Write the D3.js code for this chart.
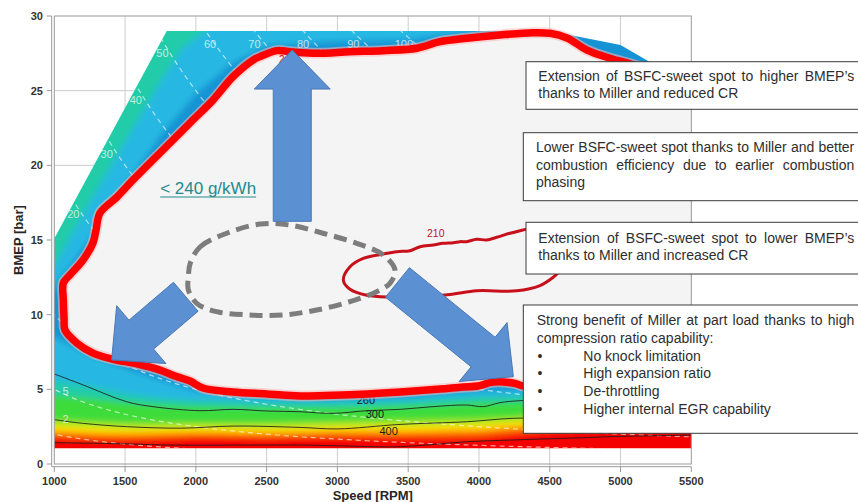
<!DOCTYPE html>
<html>
<head>
<meta charset="utf-8">
<script src="https://cdn.jsdelivr.net/npm/d3@7"></script>
<style>
  html, body { margin: 0; padding: 0; background: #ffffff; }
  svg { display: block; font-family: "Liberation Sans", Arial, sans-serif; }
</style>
</head>
<body>
<svg id="chart" width="858" height="502"></svg>
<script>
// ---------- axes ----------
const speedTicks = [1000, 1500, 2000, 2500, 3000, 3500, 4000, 4500, 5000, 5500];
const bmepTicks = [0, 5, 10, 15, 20, 25, 30];
const speedTitle = "Speed [RPM]";
const bmepTitle = "BMEP [bar]";

// ---------- measured map outline [rpm, bar] ----------
const fullLoad = [[1000, 15.1], [1794, 29.0], [4500, 29.0], [5000, 28.06], [5210, 26.9], [5500, 25.2]];
const minLoad = 1.05;

// ---------- BSFC colour bands: lower edge (bar) of each band at bandRpm ----------
const bandRpm    = [900, 1000, 1250, 1500, 1750, 2000, 2500, 3000, 3500, 4000, 4500, 5000, 5500, 5700];
const edgeOrange = [1.85, 1.85, 1.75, 1.7, 1.75, 1.85, 1.8, 1.85, 1.85, 1.9, 2.3, 2.5, 2.6, 2.6];
const edgeYellow = [2.2, 2.2, 2.1, 2.05, 2.1, 2.15, 2.1, 2.2, 2.2, 2.3, 2.65, 2.85, 2.95, 2.95];
const edgeLime   = [2.55, 2.55, 2.45, 2.35, 2.4, 2.45, 2.4, 2.5, 2.55, 2.65, 2.95, 3.15, 3.25, 3.25];
const edgeGreen  = [2.9, 2.9, 2.8, 2.7, 2.7, 2.7, 2.7, 2.8, 2.9, 3.0, 3.25, 3.4, 3.5, 3.5];
const edgeTeal   = [4.6, 4.6, 4.4, 4.1, 3.95, 3.85, 3.8, 3.8, 3.9, 4.1, 4.2, 4.2, 4.2, 4.2];
const edgeCyan   = [5.6, 5.6, 5.2, 4.7, 4.4, 4.25, 4.1, 4.1, 4.2, 4.5, 4.6, 4.6, 4.6, 4.6];
const edgeBlue   = [8.5, 8.5, 7.3, 6.4, 5.6, 4.9, 4.45, 4.35, 4.5, 4.9, 5.0, 5.0, 5.0, 5.0];
// upper limits of the cyan and blue bands towards the full-load line
const ceilCyan = [[900, 12.0], [1000, 13.3], [1250, 17.5], [1500, 21.6], [1750, 25.6], [1900, 27.8], [2100, 29.3], [2350, 30.5], [5700, 31]];
const ceilBlue = [[900, 10.5], [1000, 11.8], [1250, 15.0], [1500, 18.6], [1750, 22.0], [2000, 24.8], [2250, 26.8], [2500, 28.0],
                  [3000, 28.3], [3500, 28.4], [4000, 29.1], [4500, 29.6], [5700, 30]];

// ---------- BSFC iso-lines [rpm, bar] ----------
const bsfc300 = [[1000, 6.03], [1205, 5.29], [1511, 4.17], [1697, 3.84], [2029, 3.57], [2262, 3.66], [2500, 3.55], [2736, 3.5],
                 [2969, 3.39], [3207, 3.57], [3443, 3.66], [3675, 3.84], [3913, 3.95], [4031, 3.84], [4149, 4.11], [4290, 4.24],
                 [4700, 4.3], [5200, 4.2], [5600, 4.1]];
const bsfc400 = [[1000, 2.97], [1205, 2.72], [1511, 2.5], [1900, 2.4], [2262, 2.54], [2736, 2.45], [3000, 2.35], [3443, 2.65],
                 [3913, 2.83], [4240, 3.06], [4700, 3.1], [5200, 3.1], [5600, 3.1]];
const bsfcLow = [[1000, 1.43], [1500, 1.35], [1800, 1.27], [2736, 1.27], [3000, 1.22], [3443, 1.16], [3913, 1.49], [4240, 1.61],
                 [4700, 1.75], [5000, 1.85], [5600, 1.95]];
const contourLabelText = ["260", "300", "400"];
const contourLabelPos = [[3201, 4.0], [3265, 3.06], [3362, 1.94]];

// 240 g/kWh boundary (sweet spot)
const bsfc240 = [[1064, 12.12], [1064, 10.98], [1069, 9.78], [1076, 8.97], [1160, 8.10], [1273, 7.43], [1408, 7.03], [1584, 6.70],
                 [1747, 6.29], [1853, 5.89], [1959, 5.56], [2050, 5.09], [2262, 4.82], [2503, 4.69], [2736, 4.55], [2970, 4.6],
                 [3209, 4.69], [3442, 4.82], [3725, 5.02], [3887, 5.16], [3993, 5.22], [4099, 5.49], [4240, 5.42], [4339, 5.16],
                 [4572, 4.96], [4996, 4.82], [5597, 4.75], [5597, 25.7], [5280, 26.25], [5067, 26.8], [4926, 27.17], [4763, 27.72],
                 [4622, 28.53], [4502, 28.84], [4381, 28.88], [4149, 28.73], [3915, 28.51], [3725, 28.28], [3562, 27.84], [3322, 27.68],
                 [3089, 27.61], [2856, 27.50], [2665, 27.61], [2573, 27.68], [2453, 27.28], [2404, 27.05], [2262, 25.93], [2121, 24.37],
                 [1980, 23.04], [1839, 21.70], [1676, 20.16], [1556, 19.02], [1443, 17.88], [1323, 16.81], [1295, 15.67], [1273, 14.80],
                 [1203, 13.66], [1111, 12.66]];
// 210 g/kWh island
const bsfc210 = [[3042, 12.32], [3089, 13.21], [3183, 13.77], [3324, 14.06], [3419, 14.22], [3513, 14.28], [3584, 14.55], [3677, 14.67],
                 [3748, 14.78], [3819, 14.82], [3866, 14.89], [3913, 14.89], [3984, 15.05], [4054, 15.0], [4125, 15.18], [4219, 15.45],
                 [4290, 15.62], [4337, 15.72], [4560, 15.8], [4660, 14.3], [4600, 13.1], [4560, 12.8], [4510, 12.4], [4431, 11.95],
                 [4267, 11.6], [3984, 11.6], [3795, 11.35], [3560, 11.2], [3372, 11.18], [3207, 11.3], [3089, 11.7]];
const label210Pos = [3695, 15.22];
const label240Pos = [2587, 26.82];

// sweet spot of the base engine (dashed)
const baseSweetSpot = [[1960, 13.44], [2031, 14.55], [2218, 15.45], [2456, 16.07], [2665, 16.0], [2898, 15.45], [3136, 14.78],
                       [3324, 14.0], [3407, 12.99], [3371, 12.1], [3277, 11.54], [3089, 10.87], [2854, 10.31], [2618, 9.98],
                       [2382, 9.98], [2147, 10.2], [2006, 10.76], [1947, 11.65], [1947, 12.54]];

// ---------- iso-power lines (kW), 1.2 l four-stroke: P = BMEP * Vd * n / 1200 ----------
const displacement = 1.2;
const powerLevels = [2, 5, 10, 20, 30, 40, 50, 60, 70, 80, 90, 100];
const powerLabelText = ["2", "5", "20", "30", "40", "50", "60", "70", "80", "90", "100"];
const powerLabelPos = [[1079, 2.72], [1079, 4.62], [1134, 16.45], [1370, 20.47], [1576, 24.1], [1764, 27.23],
                       [2100, 27.84], [2414, 27.86], [2757, 27.86], [3112, 27.84], [3470, 27.84]];

// ---------- arrows [tail, tip] ----------
const arrowUp = [[2681, 16.25], [2681, 27.72]];
const arrowLeft = [[1929, 11.2], [1405, 6.97]];
const arrowRight = [[3424, 12.16], [4243, 5.85]];

// ---------- annotation texts ----------
const sweetSpotNote = "< 240 g/kWh";
const noteHigh = ["Extension of BSFC-sweet spot to higher BMEP\u2019s", "thanks to Miller and reduced CR"];
const noteLower = ["Lower BSFC-sweet spot thanks to Miller and better", "combustion efficiency due to earlier combustion", "phasing"];
const noteLow = ["Extension of BSFC-sweet spot to lower BMEP\u2019s", "thanks to Miller and increased CR"];
const notePart = ["Strong benefit of Miller at part load thanks to high", "compression ratio capability:"];
const notePartBullets = ["No knock limitation", "High expansion ratio", "De-throttling", "Higher internal EGR capability"];

// ================= drawing =================
const W = 858, H = 502;
const svg = d3.select("#chart");
svg.append("rect").attr("width", W).attr("height", H).attr("fill", "#ffffff");

const x = d3.scaleLinear().domain([1000, 5500]).range([54.3, 691.3]);
const y = d3.scaleLinear().domain([0, 30]).range([464, 16]);

const poly = pts => "M" + pts.map(p => x(p[0]).toFixed(2) + "," + y(p[1]).toFixed(2)).join("L") + "Z";
const smoothLine = d3.line().x(d => x(d[0])).y(d => y(d[1])).curve(d3.curveCatmullRom.alpha(0.5));
const smoothLoop = d3.line().x(d => x(d[0])).y(d => y(d[1])).curve(d3.curveCatmullRomClosed.alpha(0.5));

const defs = svg.append("defs");
defs.append("clipPath").attr("id", "plotClip").append("rect")
  .attr("x", x(1000)).attr("y", y(30)).attr("width", x(5500) - x(1000)).attr("height", y(0) - y(30));
const outline = fullLoad.concat([[5500, minLoad], [1000, minLoad]]);
defs.append("clipPath").attr("id", "mapClip").append("path").attr("d", poly(outline));
const soft = defs.append("filter").attr("id", "soft").attr("filterUnits", "userSpaceOnUse")
  .attr("x", -20).attr("y", -20).attr("width", W + 40).attr("height", H + 40);
soft.append("feGaussianBlur").attr("stdDeviation", 3.2);

// grid
const grid = svg.append("g").attr("stroke", "#cdcdcd").attr("stroke-width", 1);
speedTicks.slice(1, -1).forEach(v => grid.append("line")
  .attr("x1", x(v)).attr("x2", x(v)).attr("y1", y(30)).attr("y2", y(0) + 3));
bmepTicks.slice(1, -1).forEach(v => grid.append("line")
  .attr("x1", x(1000)).attr("x2", x(5500)).attr("y1", y(v)).attr("y2", y(v)));

// colour map
const mapG = svg.append("g").attr("clip-path", "url(#mapClip)");
const bandsG = mapG.append("g").attr("filter", "url(#soft)");
bandsG.append("path").attr("d", poly([[900, -3], [5700, -3], [5700, 40], [900, 40]])).attr("fill", "#f50000");
const layers = [
  [edgeOrange, null, "#ff7a00"],
  [edgeYellow, null, "#ffe400"],
  [edgeLime, null, "#b2e81c"],
  [edgeGreen, null, "#3edc3a"],
  [edgeTeal, null, "#22cca8"],
  [edgeCyan, ceilCyan, "#27b8e2"],
  [edgeBlue, ceilBlue, "#1493d4"]
];
layers.forEach(([edge, ceil, colour]) => {
  const lower = bandRpm.map((r, i) => [r, edge[i]]);
  const upper = ceil ? ceil.slice().reverse() : [[5700, 40], [900, 40]];
  bandsG.append("path").attr("d", poly(lower.concat(upper))).attr("fill", colour);
});

// iso-power lines
const isoG = mapG.append("g").attr("fill", "none").attr("stroke", "rgba(255,255,255,0.62)")
  .attr("stroke-width", 1.2).attr("stroke-dasharray", "5,4");
powerLevels.forEach(p => {
  const pts = d3.range(900, 5701, 25).map(n => [n, 1200 * p / (displacement * n)]);
  isoG.append("path").attr("d", smoothLine(pts));
});

// BSFC iso-lines
const isoBsfc = mapG.append("g").attr("fill", "none").attr("stroke", "#1c1c1c").attr("stroke-width", 1).attr("stroke-opacity", 0.85);
[bsfc300, bsfc400, bsfcLow].forEach(c => isoBsfc.append("path").attr("d", smoothLine(c)));

// iso-line labels
powerLabelText.forEach((t, i) => svg.append("text")
  .attr("x", x(powerLabelPos[i][0])).attr("y", y(powerLabelPos[i][1]))
  .attr("text-anchor", "middle").attr("font-size", 11).attr("fill", "rgba(235,245,245,0.8)").text(t));
contourLabelText.forEach((t, i) => svg.append("text")
  .attr("x", x(contourLabelPos[i][0])).attr("y", y(contourLabelPos[i][1]))
  .attr("text-anchor", "middle").attr("font-size", 11).attr("fill", "#1a1a1a").text(t));

// inside the 240 g/kWh boundary
const plotG = svg.append("g").attr("clip-path", "url(#plotClip)");
plotG.append("path").attr("d", smoothLoop(bsfc240)).attr("fill", "#f4f4f4");

// frame and axes
svg.append("rect").attr("x", x(1000)).attr("y", y(30)).attr("width", x(5500) - x(1000)).attr("height", y(0) - y(30))
  .attr("fill", "none").attr("stroke", "#9a9a9a").attr("stroke-width", 1);
const axG = svg.append("g").attr("stroke", "#9a9a9a").attr("stroke-width", 1);
axG.append("line").attr("x1", x(1000) - 2.6).attr("x2", x(1000) - 2.6).attr("y1", y(30)).attr("y2", y(0) + 2.7);
axG.append("line").attr("x1", x(1000) - 2.6).attr("x2", x(5500)).attr("y1", y(0) + 2.7).attr("y2", y(0) + 2.7);
bmepTicks.forEach(v => axG.append("line").attr("x1", x(1000) - 7.5).attr("x2", x(1000) - 2.6).attr("y1", y(v)).attr("y2", y(v)));
speedTicks.forEach(v => axG.append("line").attr("x1", x(v)).attr("x2", x(v)).attr("y1", y(0) + 2.7).attr("y2", y(0) + 8));

const tickFont = { "font-size": 11, "font-weight": "bold", "fill": "#333333" };
speedTicks.forEach(v => {
  const t = svg.append("text").attr("x", x(v)).attr("y", 485).attr("text-anchor", "middle").text(v);
  Object.entries(tickFont).forEach(([k, val]) => t.attr(k, val));
});
bmepTicks.forEach(v => {
  const t = svg.append("text").attr("x", 43).attr("y", y(v) + 4).attr("text-anchor", "end").text(v);
  Object.entries(tickFont).forEach(([k, val]) => t.attr(k, val));
});
svg.append("text").attr("x", (x(1000) + x(5500)) / 2).attr("y", 500).attr("text-anchor", "middle")
  .attr("font-size", 13).attr("font-weight", "bold").attr("fill", "#262626").text(speedTitle);
svg.append("text").attr("transform", `translate(22.5,${(y(0) + y(30)) / 2}) rotate(-90)`).attr("text-anchor", "middle")
  .attr("font-size", 13).attr("font-weight", "bold").attr("fill", "#262626").text(bmepTitle);

// 240 g/kWh boundary line
plotG.append("path").attr("d", smoothLoop(bsfc240)).attr("fill", "none")
  .attr("stroke", "#f7b9b9").attr("stroke-width", 11).attr("stroke-opacity", 0.55);
plotG.append("path").attr("d", smoothLoop(bsfc240)).attr("fill", "none")
  .attr("stroke", "#ff0000").attr("stroke-width", 7.5).attr("stroke-linejoin", "round");
svg.append("text").attr("x", x(label240Pos[0])).attr("y", y(label240Pos[1]))
  .attr("font-size", 10).attr("fill", "#e00000").text("240");

// 210 g/kWh island
svg.append("path").attr("d", smoothLoop(bsfc210)).attr("fill", "none")
  .attr("stroke", "#c8101a").attr("stroke-width", 3).attr("stroke-linejoin", "round");
svg.append("text").attr("x", x(label210Pos[0])).attr("y", y(label210Pos[1])).attr("text-anchor", "middle")
  .attr("font-size", 10.5).attr("fill", "#c8101a").text("210");

// base engine sweet spot
svg.append("path").attr("d", smoothLoop(baseSweetSpot)).attr("fill", "none")
  .attr("stroke", "#7d7d7d").attr("stroke-width", 5).attr("stroke-dasharray", "13,7");

// sweet spot caption
const cap = svg.append("text").attr("x", x(1748)).attr("y", y(18.08))
  .attr("font-size", 17).attr("fill", "#238a8c").text(sweetSpotNote);
const capW = cap.node().getComputedTextLength();
svg.append("line").attr("x1", x(1748)).attr("x2", x(1748) + capW)
  .attr("y1", y(18.08) + 3).attr("y2", y(18.08) + 3).attr("stroke", "#238a8c").attr("stroke-width", 1.2);

// arrows
function arrowPath(tail, tip, shaftW, headW, headL) {
  const x0 = x(tail[0]), y0 = y(tail[1]), x1 = x(tip[0]), y1 = y(tip[1]);
  const L = Math.hypot(x1 - x0, y1 - y0), ux = (x1 - x0) / L, uy = (y1 - y0) / L, px = -uy, py = ux;
  const bx = x1 - ux * headL, by = y1 - uy * headL;
  const pts = [
    [x0 + px * shaftW / 2, y0 + py * shaftW / 2], [bx + px * shaftW / 2, by + py * shaftW / 2],
    [bx + px * headW / 2, by + py * headW / 2], [x1, y1], [bx - px * headW / 2, by - py * headW / 2],
    [bx - px * shaftW / 2, by - py * shaftW / 2], [x0 - px * shaftW / 2, y0 - py * shaftW / 2]];
  return "M" + pts.map(p => p[0].toFixed(2) + "," + p[1].toFixed(2)).join("L") + "Z";
}
[arrowUp, arrowLeft, arrowRight].forEach(a => svg.append("path")
  .attr("d", arrowPath(a[0], a[1], 38, 76, 39))
  .attr("fill", "#5b90d3").attr("stroke", "#4a78b2").attr("stroke-width", 1));

// note boxes
const lineH = 17.8;
function justify(textSel, line, x0, x1) {
  const words = line.split(" ");
  const widths = words.map(w => {
    const tmp = textSel.append("tspan").text(w);
    const wd = tmp.node().getComputedTextLength();
    tmp.remove();
    return wd;
  });
  const gap = (x1 - x0 - d3.sum(widths)) / (words.length - 1);
  let cx = x0;
  words.forEach((w, i) => {
    textSel.append("tspan").attr("x", cx).text(w);
    cx += widths[i] + gap;
  });
}
function note(box, lines, nJustified, bullets) {
  const g = svg.append("g");
  g.append("rect").attr("x", box.x).attr("y", box.y).attr("width", 880 - box.x).attr("height", box.h)
    .attr("fill", "#ffffff").attr("stroke", "#3a3a3a").attr("stroke-width", 1);
  let base = box.base;
  const mk = () => g.append("text").attr("y", base).attr("font-size", 14).attr("fill", "#2e2e2e");
  lines.forEach((ln, i) => {
    const t = mk();
    if (i < nJustified) justify(t, ln, box.tx, 854.3);
    else t.attr("x", box.tx).text(ln);
    base += lineH;
  });
  (bullets || []).forEach(b => {
    mk().attr("x", box.tx + 3.3).attr("text-anchor", "middle").text("\u2022");
    mk().attr("x", box.tx + 46.6).text(b);
    base += lineH;
  });
}
note({ x: 526, y: 61.7, h: 47.6, tx: 538.3, base: 80.6 }, noteHigh, 1);
note({ x: 523.3, y: 132.7, h: 68, tx: 536, base: 151.7 }, noteLower, 2);
note({ x: 526, y: 222.3, h: 51.7, tx: 538.3, base: 242.6 }, noteLow, 1);
note({ x: 523.3, y: 305, h: 128.3, tx: 536.7, base: 325 }, notePart, 1, notePartBullets);
</script>
</body>
</html>
